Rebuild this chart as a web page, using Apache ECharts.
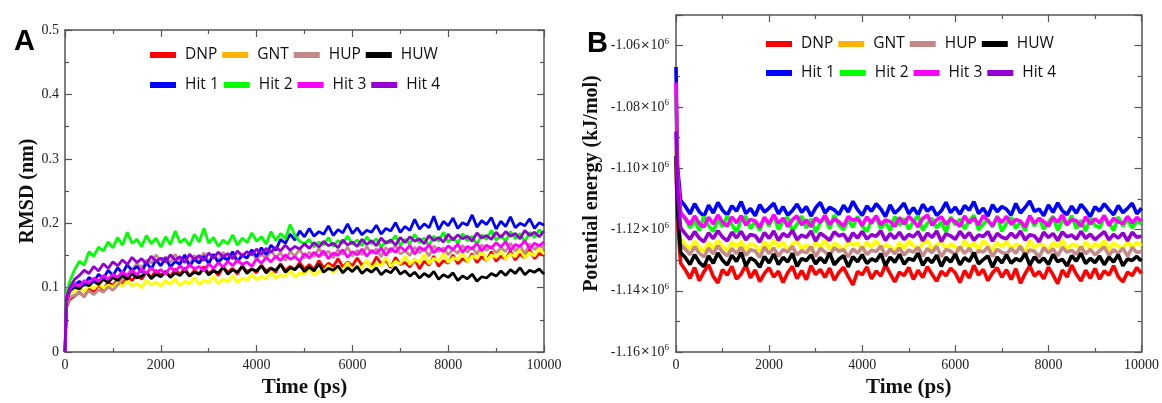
<!DOCTYPE html>
<html>
<head>
<meta charset="utf-8">
<title>RMSD and potential energy</title>
<script src="https://cdn.jsdelivr.net/npm/echarts@6/dist/echarts.min.js"></script>
<style>
  html, body { margin: 0; padding: 0; background: #fff; }
  #main { width: 1162px; height: 403px; }
</style>
</head>
<body>
<div id="main"></div>
<script>
// shared time axis (ps): 0 and 30 for the start-up, then every 100 ps
var times = [0, 30].concat(Array.from({ length: 100 }, function (_, i) { return 100 * (i + 1); }));

var names = ['DNP', 'GNT', 'HUP', 'HUW', 'Hit 1', 'Hit 2', 'Hit 3', 'Hit 4'];
var lineColors = ['#ff0000', '#ffff00', '#c48a8a', '#000000', '#0000ff', '#00ff00', '#ff00ff', '#9400d3'];
var legendColors = ['#ff0000', '#ffb300', '#c48a8a', '#000000', '#0000ff', '#00ff00', '#ff00ff', '#9400d3'];

// panel A: RMSD (nm), one row per 1000 ps
var rmsdDNP = [0, 0.070,
  0.082, 0.087, 0.093, 0.086, 0.099, 0.094, 0.104, 0.097, 0.109, 0.103,
  0.114, 0.106, 0.118, 0.111, 0.121, 0.113, 0.124, 0.116, 0.127, 0.119,
  0.125, 0.117, 0.129, 0.120, 0.131, 0.118, 0.127, 0.121, 0.133, 0.122,
  0.128, 0.119, 0.132, 0.124, 0.130, 0.121, 0.134, 0.125, 0.129, 0.123,
  0.135, 0.126, 0.131, 0.124, 0.137, 0.127, 0.133, 0.128, 0.139, 0.129,
  0.136, 0.128, 0.142, 0.131, 0.138, 0.133, 0.145, 0.132, 0.140, 0.134,
  0.146, 0.135, 0.141, 0.133, 0.148, 0.137, 0.143, 0.131, 0.147, 0.136,
  0.139, 0.132, 0.144, 0.129, 0.141, 0.135, 0.149, 0.133, 0.142, 0.138,
  0.151, 0.137, 0.145, 0.140, 0.153, 0.139, 0.148, 0.142, 0.156, 0.141,
  0.149, 0.144, 0.157, 0.143, 0.152, 0.146, 0.159, 0.145, 0.153, 0.150];
var rmsdGNT = [0, 0.075,
  0.090, 0.095, 0.101, 0.094, 0.103, 0.098, 0.106, 0.099, 0.104, 0.101,
  0.109, 0.102, 0.111, 0.103, 0.107, 0.100, 0.112, 0.104, 0.109, 0.102,
  0.111, 0.105, 0.114, 0.103, 0.110, 0.106, 0.116, 0.105, 0.112, 0.108,
  0.117, 0.106, 0.113, 0.109, 0.119, 0.108, 0.115, 0.111, 0.121, 0.112,
  0.118, 0.113, 0.124, 0.115, 0.120, 0.117, 0.127, 0.116, 0.123, 0.121,
  0.130, 0.119, 0.126, 0.124, 0.135, 0.123, 0.131, 0.128, 0.139, 0.127,
  0.134, 0.131, 0.143, 0.130, 0.138, 0.134, 0.147, 0.133, 0.141, 0.137,
  0.149, 0.136, 0.144, 0.139, 0.152, 0.137, 0.146, 0.141, 0.154, 0.139,
  0.147, 0.143, 0.155, 0.140, 0.150, 0.145, 0.158, 0.142, 0.151, 0.147,
  0.157, 0.144, 0.153, 0.148, 0.160, 0.146, 0.155, 0.149, 0.161, 0.152];
var rmsdHUP = [0, 0.072,
  0.085, 0.088, 0.092, 0.087, 0.095, 0.089, 0.097, 0.093, 0.101, 0.096,
  0.104, 0.112, 0.121, 0.129, 0.137, 0.131, 0.143, 0.138, 0.151, 0.142,
  0.148, 0.139, 0.152, 0.141, 0.147, 0.137, 0.150, 0.143, 0.154, 0.140,
  0.149, 0.142, 0.155, 0.144, 0.151, 0.139, 0.153, 0.146, 0.157, 0.143,
  0.152, 0.145, 0.158, 0.147, 0.154, 0.142, 0.156, 0.149, 0.160, 0.146,
  0.155, 0.148, 0.161, 0.150, 0.157, 0.146, 0.159, 0.152, 0.163, 0.149,
  0.158, 0.151, 0.164, 0.153, 0.160, 0.148, 0.162, 0.155, 0.166, 0.152,
  0.157, 0.150, 0.163, 0.154, 0.161, 0.149, 0.165, 0.156, 0.162, 0.151,
  0.160, 0.153, 0.166, 0.155, 0.163, 0.152, 0.167, 0.158, 0.164, 0.154,
  0.162, 0.156, 0.169, 0.157, 0.165, 0.153, 0.168, 0.159, 0.166, 0.161];
var rmsdHUW = [0, 0.078,
  0.095, 0.101, 0.098, 0.106, 0.103, 0.110, 0.105, 0.113, 0.108, 0.116,
  0.111, 0.119, 0.113, 0.122, 0.115, 0.118, 0.124, 0.114, 0.121, 0.117,
  0.125, 0.116, 0.123, 0.119, 0.127, 0.118, 0.124, 0.121, 0.130, 0.120,
  0.126, 0.123, 0.132, 0.121, 0.128, 0.124, 0.133, 0.122, 0.129, 0.126,
  0.134, 0.123, 0.130, 0.127, 0.136, 0.124, 0.131, 0.128, 0.135, 0.125,
  0.132, 0.126, 0.137, 0.124, 0.130, 0.127, 0.134, 0.123, 0.131, 0.125,
  0.133, 0.122, 0.129, 0.124, 0.131, 0.120, 0.127, 0.123, 0.132, 0.121,
  0.126, 0.118, 0.124, 0.115, 0.122, 0.117, 0.125, 0.113, 0.120, 0.116,
  0.123, 0.111, 0.118, 0.114, 0.121, 0.110, 0.117, 0.115, 0.122, 0.118,
  0.126, 0.119, 0.128, 0.122, 0.131, 0.120, 0.127, 0.124, 0.129, 0.121];
var rmsdHit1 = [0, 0.080,
  0.095, 0.104, 0.110, 0.103, 0.116, 0.109, 0.121, 0.114, 0.127, 0.119,
  0.131, 0.122, 0.136, 0.126, 0.133, 0.124, 0.139, 0.129, 0.143, 0.134,
  0.146, 0.132, 0.141, 0.136, 0.151, 0.133, 0.144, 0.138, 0.149, 0.137,
  0.152, 0.139, 0.147, 0.143, 0.156, 0.141, 0.150, 0.146, 0.159, 0.148,
  0.162, 0.151, 0.166, 0.158, 0.175, 0.169, 0.183, 0.174, 0.188, 0.179,
  0.192, 0.180, 0.187, 0.183, 0.196, 0.181, 0.190, 0.185, 0.199, 0.184,
  0.193, 0.182, 0.189, 0.186, 0.197, 0.183, 0.192, 0.188, 0.201, 0.186,
  0.195, 0.189, 0.206, 0.191, 0.199, 0.193, 0.211, 0.190, 0.203, 0.196,
  0.208, 0.192, 0.201, 0.197, 0.213, 0.194, 0.204, 0.198, 0.209, 0.191,
  0.203, 0.195, 0.210, 0.193, 0.200, 0.196, 0.207, 0.192, 0.201, 0.197];
var rmsdHit2 = [0, 0.090,
  0.110, 0.128, 0.141, 0.135, 0.156, 0.149, 0.163, 0.157, 0.171, 0.162,
  0.178, 0.166, 0.186, 0.169, 0.175, 0.164, 0.181, 0.168, 0.177, 0.163,
  0.179, 0.167, 0.188, 0.170, 0.176, 0.165, 0.183, 0.171, 0.192, 0.169,
  0.178, 0.164, 0.174, 0.168, 0.182, 0.166, 0.177, 0.170, 0.185, 0.172,
  0.179, 0.168, 0.187, 0.173, 0.184, 0.176, 0.198, 0.181, 0.172, 0.168,
  0.175, 0.163, 0.171, 0.166, 0.178, 0.164, 0.173, 0.169, 0.180, 0.167,
  0.174, 0.165, 0.179, 0.168, 0.176, 0.163, 0.172, 0.170, 0.181, 0.166,
  0.175, 0.168, 0.183, 0.170, 0.177, 0.165, 0.180, 0.172, 0.186, 0.171,
  0.178, 0.169, 0.184, 0.173, 0.180, 0.167, 0.182, 0.175, 0.189, 0.174,
  0.181, 0.172, 0.187, 0.176, 0.184, 0.171, 0.186, 0.178, 0.190, 0.182];
var rmsdHit3 = [0, 0.078,
  0.098, 0.106, 0.102, 0.111, 0.107, 0.115, 0.110, 0.119, 0.113, 0.121,
  0.116, 0.125, 0.118, 0.127, 0.120, 0.129, 0.122, 0.131, 0.124, 0.128,
  0.121, 0.132, 0.125, 0.134, 0.127, 0.136, 0.129, 0.133, 0.126, 0.137,
  0.130, 0.139, 0.132, 0.141, 0.134, 0.143, 0.136, 0.140, 0.133, 0.145,
  0.138, 0.147, 0.140, 0.149, 0.142, 0.151, 0.144, 0.148, 0.141, 0.153,
  0.146, 0.155, 0.148, 0.157, 0.145, 0.154, 0.150, 0.159, 0.147, 0.156,
  0.151, 0.160, 0.149, 0.158, 0.153, 0.162, 0.150, 0.161, 0.155, 0.164,
  0.157, 0.166, 0.152, 0.163, 0.158, 0.167, 0.154, 0.162, 0.156, 0.165,
  0.159, 0.168, 0.155, 0.164, 0.160, 0.169, 0.157, 0.166, 0.161, 0.170,
  0.163, 0.172, 0.158, 0.167, 0.164, 0.173, 0.160, 0.169, 0.165, 0.171];
var rmsdHit4 = [0, 0.085,
  0.100, 0.113, 0.119, 0.127, 0.122, 0.133, 0.126, 0.137, 0.130, 0.140,
  0.134, 0.143, 0.136, 0.147, 0.139, 0.145, 0.137, 0.149, 0.141, 0.146,
  0.140, 0.151, 0.143, 0.148, 0.139, 0.152, 0.144, 0.150, 0.142, 0.154,
  0.146, 0.155, 0.148, 0.153, 0.145, 0.157, 0.149, 0.156, 0.151, 0.160,
  0.152, 0.161, 0.155, 0.163, 0.157, 0.166, 0.158, 0.164, 0.160, 0.168,
  0.161, 0.170, 0.163, 0.172, 0.165, 0.169, 0.162, 0.174, 0.166, 0.171,
  0.164, 0.175, 0.167, 0.173, 0.165, 0.177, 0.169, 0.174, 0.166, 0.178,
  0.170, 0.179, 0.172, 0.176, 0.168, 0.181, 0.173, 0.178, 0.171, 0.183,
  0.174, 0.182, 0.176, 0.180, 0.172, 0.185, 0.177, 0.181, 0.175, 0.186,
  0.178, 0.187, 0.180, 0.184, 0.176, 0.189, 0.181, 0.186, 0.179, 0.188];

// panel B: potential energy (kJ/mol), one row per 1000 ps
var epDNP = [-1097000, -1116000,
  -1131000, -1133200, -1135900, -1132400, -1136700, -1133800, -1131500, -1135300, -1137400, -1133100,
  -1134900, -1132000, -1136200, -1134500, -1131600, -1135800, -1133200, -1137000, -1134300, -1132500,
  -1135500, -1133600, -1137300, -1134100, -1132000, -1136000, -1133400, -1136400, -1131800, -1134700,
  -1133000, -1135600, -1132600, -1136500, -1134000, -1132300, -1135400, -1138100, -1133700, -1134800,
  -1132200, -1136100, -1133500, -1135200, -1131500, -1134400, -1137100, -1133900, -1135000, -1132400,
  -1136300, -1133300, -1135700, -1132100, -1134600, -1136900, -1133600, -1135100, -1132600, -1134200,
  -1137300, -1133400, -1135800, -1131700, -1134900, -1133000, -1136700, -1134100, -1132500, -1135600,
  -1133100, -1136300, -1132800, -1137500, -1134400, -1131900, -1135200, -1133700, -1136100, -1132300,
  -1134800, -1137700, -1133200, -1135500, -1131600, -1134600, -1136800, -1133300, -1135900, -1132700,
  -1136200, -1133500, -1134900, -1131800, -1135400, -1137100, -1133900, -1135000, -1132400, -1134300];
var epGNT = [-1094000, -1112000,
  -1123000, -1124800, -1126400, -1123700, -1125900, -1127100, -1124300, -1126200, -1123500, -1125400,
  -1126900, -1124000, -1125800, -1123800, -1126600, -1124600, -1125200, -1127300, -1123900, -1126100,
  -1123400, -1125700, -1124200, -1126800, -1124800, -1123600, -1126300, -1125000, -1127200, -1124100,
  -1125900, -1123300, -1126500, -1124500, -1125300, -1127000, -1123800, -1125100, -1124400, -1126700,
  -1124000, -1125800, -1123500, -1126400, -1124900, -1125600, -1127100, -1124200, -1126200, -1123700,
  -1125300, -1126900, -1124500, -1123400, -1126500, -1125000, -1123900, -1126300, -1124700, -1125600,
  -1127000, -1123700, -1125900, -1124300, -1126600, -1123500, -1125200, -1126800, -1124100, -1125700,
  -1123800, -1126400, -1124800, -1125400, -1127200, -1123600, -1126000, -1124500, -1125300, -1126900,
  -1124200, -1125700, -1123400, -1126500, -1124900, -1125100, -1127000, -1123900, -1126200, -1124600,
  -1125800, -1123500, -1126700, -1124400, -1125500, -1126300, -1123800, -1125900, -1124100, -1125300];
var epHUP = [-1099000, -1114000,
  -1125000, -1126400, -1128200, -1125600, -1127700, -1128900, -1126100, -1127900, -1125300, -1127300,
  -1128600, -1126200, -1127800, -1125800, -1128400, -1126600, -1127000, -1129100, -1125700, -1127900,
  -1126000, -1128700, -1126500, -1127400, -1125500, -1128300, -1126900, -1127600, -1125600, -1128800,
  -1126200, -1127300, -1128500, -1125900, -1127100, -1126600, -1128900, -1126300, -1127700, -1125700,
  -1128100, -1126800, -1127200, -1125400, -1128600, -1126400, -1127900, -1126000, -1128300, -1126700,
  -1127400, -1125800, -1128700, -1126200, -1127600, -1125500, -1128900, -1126500, -1127100, -1128200,
  -1125600, -1127800, -1126100, -1128500, -1126900, -1127300, -1125700, -1128800, -1126400, -1127500,
  -1128000, -1126200, -1127700, -1125500, -1128400, -1126700, -1127100, -1129000, -1125900, -1127600,
  -1126300, -1128600, -1125800, -1127400, -1126800, -1128100, -1125600, -1127900, -1126500, -1128300,
  -1127000, -1125700, -1128400, -1126600, -1127800, -1126100, -1128700, -1125900, -1127500, -1127200];
var epHUW = [-1096000, -1113000,
  -1127500, -1129100, -1131400, -1128200, -1130700, -1132100, -1128600, -1131000, -1127700, -1130000,
  -1131600, -1128400, -1130400, -1127500, -1131900, -1129300, -1130200, -1132300, -1128800, -1130900,
  -1128000, -1131400, -1129100, -1130600, -1127800, -1132000, -1129500, -1130100, -1128300, -1131200,
  -1129200, -1130900, -1127600, -1131500, -1129700, -1128500, -1132200, -1128900, -1130500, -1128200,
  -1131100, -1129600, -1130300, -1127900, -1131800, -1129000, -1130700, -1128100, -1131300, -1129400,
  -1130100, -1127700, -1131700, -1129300, -1130800, -1128400, -1132000, -1129100, -1130600, -1128000,
  -1131500, -1129200, -1130400, -1127600, -1131200, -1129800, -1128600, -1132300, -1129000, -1130900,
  -1128300, -1131000, -1129500, -1130200, -1127800, -1131600, -1128900, -1130700, -1129300, -1131400,
  -1128100, -1130500, -1129700, -1131900, -1128500, -1130300, -1127700, -1131100, -1129400, -1130800,
  -1128700, -1131500, -1129000, -1130600, -1128200, -1131800, -1129600, -1130100, -1128800, -1130300];
var epHit1 = [-1067000, -1099000,
  -1110500, -1112400, -1114900, -1111600, -1114200, -1115700, -1112100, -1114600, -1111200, -1113700,
  -1115300, -1112300, -1114000, -1110900, -1114800, -1113100, -1115500, -1111900, -1114300, -1113000,
  -1111400, -1114900, -1112600, -1115300, -1113800, -1111700, -1114400, -1112500, -1115600, -1112900,
  -1111200, -1114600, -1112800, -1113600, -1115100, -1112100, -1114300, -1110800, -1113500, -1115400,
  -1112300, -1114100, -1111600, -1113300, -1115800, -1112000, -1114700, -1113200, -1111400, -1114900,
  -1112900, -1115200, -1111800, -1114000, -1112600, -1115400, -1113900, -1111100, -1114500, -1112700,
  -1115000, -1112200, -1113700, -1110900, -1114800, -1113000, -1115600, -1111900, -1114200, -1112500,
  -1113400, -1115300, -1111500, -1114600, -1112800, -1110700, -1114100, -1113300, -1115500, -1112000,
  -1114400, -1111300, -1113900, -1115100, -1112400, -1114700, -1111800, -1113600, -1115800, -1112600,
  -1114000, -1111600, -1113500, -1115200, -1112200, -1114500, -1113100, -1111400, -1114900, -1113000];
var epHit2 = [-1076000, -1103000,
  -1115000, -1116600, -1119400, -1117100, -1120300, -1115800, -1118700, -1120600, -1116700, -1119100,
  -1115500, -1118400, -1120800, -1116900, -1115700, -1119700, -1117400, -1120300, -1116100, -1118900,
  -1115400, -1120000, -1117200, -1116000, -1120500, -1118200, -1115600, -1119500, -1116500, -1120900,
  -1117700, -1116200, -1119800, -1115300, -1118600, -1120100, -1116800, -1119300, -1115700, -1118800,
  -1120700, -1117000, -1116100, -1119600, -1117500, -1120400, -1115800, -1118700, -1116400, -1119900,
  -1117300, -1115500, -1120200, -1118000, -1116300, -1119500, -1117600, -1120800, -1115900, -1118500,
  -1116600, -1119800, -1117100, -1115400, -1120100, -1118300, -1116700, -1119200, -1115600, -1120600,
  -1117900, -1116000, -1119600, -1117300, -1120400, -1115800, -1118800, -1116200, -1119900, -1117500,
  -1115700, -1120200, -1116900, -1118400, -1115500, -1119700, -1117000, -1120500, -1116300, -1118600,
  -1119400, -1116100, -1117800, -1120300, -1115900, -1118900, -1116600, -1119500, -1117200, -1118100];
var epHit3 = [-1072000, -1101000,
  -1114500, -1116300, -1118400, -1115600, -1118000, -1119200, -1116000, -1118200, -1115300, -1117600,
  -1118900, -1115900, -1117800, -1115500, -1118600, -1116700, -1117200, -1119300, -1116000, -1118100,
  -1115200, -1117900, -1116300, -1119000, -1116800, -1115600, -1118500, -1116900, -1119100, -1116200,
  -1117700, -1115400, -1118300, -1116600, -1117500, -1118900, -1115800, -1117000, -1116500, -1118700,
  -1115900, -1118000, -1115500, -1118400, -1116900, -1117400, -1119000, -1116100, -1118200, -1115700,
  -1117200, -1119100, -1116400, -1115300, -1118600, -1116800, -1115900, -1118300, -1116600, -1117500,
  -1119000, -1115600, -1117900, -1116200, -1118500, -1115400, -1117100, -1118800, -1116000, -1117700,
  -1115700, -1118300, -1116700, -1117300, -1119200, -1115500, -1118000, -1116400, -1117400, -1118900,
  -1116100, -1117600, -1115300, -1118500, -1116800, -1117100, -1119000, -1115800, -1118200, -1116500,
  -1117800, -1115400, -1118700, -1116300, -1117500, -1118100, -1115700, -1117900, -1116000, -1117300];
var epHit4 = [-1088000, -1107000,
  -1119500, -1121400, -1123200, -1120700, -1122800, -1124000, -1121100, -1123000, -1120400, -1122500,
  -1123700, -1120900, -1122700, -1120600, -1123400, -1121600, -1122000, -1124100, -1121000, -1122900,
  -1120500, -1123600, -1121300, -1122400, -1120300, -1123300, -1121800, -1122600, -1120500, -1123800,
  -1121200, -1122300, -1123500, -1120800, -1122100, -1121500, -1123900, -1121100, -1122800, -1120600,
  -1123100, -1121700, -1122200, -1120400, -1123600, -1121300, -1122900, -1120900, -1123300, -1121600,
  -1122400, -1120700, -1123700, -1121200, -1122600, -1120500, -1123900, -1121400, -1122100, -1123200,
  -1120600, -1122800, -1121000, -1123500, -1121800, -1122300, -1120700, -1123800, -1121300, -1122500,
  -1123000, -1121200, -1122700, -1120500, -1123400, -1121700, -1122100, -1124000, -1120900, -1122600,
  -1121300, -1123600, -1120800, -1122400, -1121800, -1123100, -1120600, -1122900, -1121500, -1123300,
  -1122000, -1120700, -1123400, -1121600, -1122800, -1121100, -1123700, -1120900, -1122500, -1122200];

var rmsdSets = [rmsdDNP, rmsdGNT, rmsdHUP, rmsdHUW, rmsdHit1, rmsdHit2, rmsdHit3, rmsdHit4];
var energySets = [epDNP, epGNT, epHUP, epHUW, epHit1, epHit2, epHit3, epHit4];

var serif = '"Liberation Serif", "DejaVu Serif", serif';
var sans = '"Open Sans", "Liberation Sans", sans-serif';
var axisGray = '#555';

function pairs(vals) {
    return times.map(function (t, i) { return [t, vals[i]]; });
}

function frameAxis(extra) {
    var a = {
        axisLine: { show: true, onZero: false, lineStyle: { color: axisGray, width: 1.5 } },
        axisTick: { show: true, inside: true, length: 7, lineStyle: { color: axisGray, width: 1.2 } },
        minorTick: { show: true, splitNumber: 2, length: 4, lineStyle: { color: axisGray, width: 1.2 } },
        splitLine: { show: false },
        axisLabel: { show: false }
    };
    for (var k in extra) a[k] = extra[k];
    return a;
}

function legendRow(left, top, idx) {
    return {
        left: left, top: top, orient: 'horizontal',
        icon: 'rect', itemWidth: 26, itemHeight: 6, itemGap: 5,
        selectedMode: false,
        textStyle: { fontFamily: sans, fontSize: 15.5, color: '#111', width: 35, padding: [0, 0, 0, 4] },
        data: idx.map(function (i) {
            return { name: names[i], itemStyle: { color: legendColors[i] }, lineStyle: { color: legendColors[i] } };
        })
    };
}

var myChart = echarts.init(document.getElementById('main'));

var series = [];
names.forEach(function (n, i) {
    series.push({
        name: n, type: 'line', xAxisIndex: 0, yAxisIndex: 0,
        data: pairs(rmsdSets[i]), showSymbol: false, silent: true,
        lineStyle: { color: lineColors[i], width: 2.8 }, itemStyle: { color: lineColors[i] }
    });
});
names.forEach(function (n, i) {
    series.push({
        name: n, type: 'line', xAxisIndex: 2, yAxisIndex: 2,
        data: pairs(energySets[i]), showSymbol: false, silent: true,
        lineStyle: { color: lineColors[i], width: 3.6 }, itemStyle: { color: lineColors[i] }
    });
});

var timeLabel = { show: true, fontFamily: serif, fontSize: 14, color: '#222', margin: 6,
    formatter: function (v) { return String(v); } };
var timeName = { fontFamily: serif, fontSize: 21, fontWeight: 'bold', color: '#111' };

var option = {
    animation: false,
    backgroundColor: '#fff',
    title: [
        { text: 'A', left: 9, top: 22, textStyle: { fontFamily: '"Liberation Sans", Arial, sans-serif', fontSize: 29, fontWeight: 'bold', color: '#000' } },
        { text: 'B', left: 582, top: 24, textStyle: { fontFamily: '"Liberation Sans", Arial, sans-serif', fontSize: 29, fontWeight: 'bold', color: '#000' } }
    ],
    legend: [
        legendRow(145, 42, [0, 1, 2, 3]),
        legendRow(145, 72, [4, 5, 6, 7]),
        legendRow(761, 31, [0, 1, 2, 3]),
        legendRow(761, 60, [4, 5, 6, 7])
    ],
    grid: [
        { left: 65, top: 30, width: 479, height: 336 },
        { left: 676, top: 15, width: 469, height: 350 }
    ],
    xAxis: [
        frameAxis({ type: 'value', gridIndex: 0, position: 'bottom', min: 0, max: 10000, interval: 2000,
            axisLabel: timeLabel, name: 'Time (ps)', nameLocation: 'middle', nameGap: 24, nameTextStyle: timeName }),
        frameAxis({ type: 'value', gridIndex: 0, position: 'top', min: 0, max: 10000, interval: 2000 }),
        frameAxis({ type: 'value', gridIndex: 1, position: 'bottom', min: 0, max: 10000, interval: 2000,
            axisLabel: timeLabel, name: 'Time (ps)', nameLocation: 'middle', nameGap: 24, nameTextStyle: timeName }),
        frameAxis({ type: 'value', gridIndex: 1, position: 'top', min: 0, max: 10000, interval: 2000 })
    ],
    yAxis: [
        frameAxis({ type: 'value', gridIndex: 0, position: 'left', min: 0, max: 0.5, interval: 0.1,
            axisLabel: { show: true, fontFamily: serif, fontSize: 14, color: '#222', margin: 6 },
            name: 'RMSD (nm)', nameLocation: 'middle', nameGap: 23, nameRotate: 90,
            nameTextStyle: { fontFamily: serif, fontSize: 20, fontWeight: 'bold', color: '#111' } }),
        frameAxis({ type: 'value', gridIndex: 0, position: 'right', min: 0, max: 0.5, interval: 0.1 }),
        frameAxis({ type: 'value', gridIndex: 1, position: 'left', min: -1160000, max: -1050000, interval: 20000,
            axisLabel: {
                show: true, margin: 7, showMaxLabel: false,
                formatter: function (v) {
                    return '{b|' + (v / 1e6).toFixed(2) + '}{x|×}{b|10}{s|6}';
                },
                rich: {
                    b: { fontFamily: serif, fontSize: 14, color: '#222' },
                    x: { fontFamily: sans, fontSize: 15, color: '#222', padding: [0, 1, 0, 1] },
                    s: { fontFamily: serif, fontSize: 9, color: '#222', padding: [0, 0, 8, 0] }
                }
            },
            name: 'Potential energy (kJ/mol)', nameLocation: 'middle', nameGap: 74, nameRotate: 90,
            nameTextStyle: { fontFamily: serif, fontSize: 20, fontWeight: 'bold', color: '#111' } }),
        frameAxis({ type: 'value', gridIndex: 1, position: 'right', min: -1160000, max: -1050000, interval: 20000 })
    ],
    series: series
};

myChart.setOption(option);
</script>
</body>
</html>
